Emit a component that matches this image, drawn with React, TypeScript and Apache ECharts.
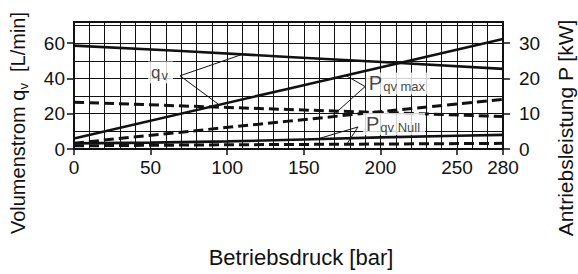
import React, { useEffect, useRef } from "react";
import * as echarts from "echarts";

// Axis tick labels
const pressureTicks = [0, 50, 100, 150, 200, 250, 280];
const flowTicks = [0, 20, 40, 60];
const powerTicks = [0, 10, 20, 30];

// Flow curves (left axis, L/min) : [pressure bar, flow]
const qvSolid = [[0, 58.6], [70, 55.6], [140, 52.2], [210, 48.9], [280, 45.4]];
const qvDashed = [[0, 26.5], [140, 22.4], [280, 18.4]];

// Power curves (right axis, kW) : [pressure bar, power]
const pMaxSolid = [[0, 3.0], [140, 17.1], [280, 31.2]];
const pMaxDashed = [[0, 1.65], [140, 7.9], [280, 14.1]];
const pNullSolid = [[0, 1.6], [50, 1.8], [100, 2.15], [150, 2.7], [200, 3.3], [250, 3.75], [280, 4.0]];
const pNullDashed = [[0, 0.9], [100, 1.2], [200, 1.4], [280, 1.6]];

// Leader lines (in left-axis units) and label anchors
const qvLeader = [[109, 53.4], [69.2, 41.5], [94.2, 25.4]];
const pMaxLeader = [[177.5, 41.6], [190, 35.4], [169.3, 19.3]];
const pNullLeader = [[159, 5.7], [185.4, 12.5], [178, 2.7]];
const qvLabelAt = [[48.3, 43.4]];
const pMaxLabelAt = [[190.5, 37.2]];
const pNullLabelAt = [[188.6, 14.2]];

const FONT = '"Liberation Sans", Arial, Helvetica, sans-serif';
const INK = "#111";

export default function App() {
  const ref = useRef<HTMLDivElement>(null);
  useEffect(() => {
    document.body.style.margin = "0";
    const chart = echarts.init(ref.current!, null, { renderer: "svg" });
    const lineSeries = (data: number[][], yAxisIndex: number, dashed: boolean, width = 2.6) => ({
      type: "line",
      xAxisIndex: 1,
      yAxisIndex,
      data,
      symbol: "none",
      silent: true,
      lineStyle: { color: INK, width, type: dashed ? [10, 5] : "solid" },
      z: 3,
    });
    const leader = (data: number[][]) => ({
      type: "line",
      xAxisIndex: 1,
      yAxisIndex: 0,
      data,
      symbol: "none",
      silent: true,
      lineStyle: { color: INK, width: 1 },
      z: 4,
    });
    const labelRich = {
      p: { fontSize: 20, fontFamily: FONT, color: INK, verticalAlign: "middle", lineHeight: 20 },
      q: { fontSize: 17, fontFamily: FONT, color: INK, verticalAlign: "middle", lineHeight: 20 },
      s: { fontSize: 13, fontFamily: FONT, color: INK, verticalAlign: "bottom", lineHeight: 13, padding: [6, 0, 0, 1] },
    };
    const labelSeries = (data: number[][], text: string) => ({
      type: "scatter",
      xAxisIndex: 1,
      yAxisIndex: 0,
      data,
      symbolSize: 0,
      silent: true,
      z: 5,
      label: {
        show: true,
        position: "right",
        distance: 0,
        formatter: text,
        backgroundColor: "#fff",
        padding: [1, 5, 1, 3],
        rich: labelRich,
      },
    });
    chart.setOption({
      animation: false,
      grid: {
        left: 74,
        top: 22,
        width: 429,
        height: 127,
        show: true,
        borderColor: INK,
        borderWidth: 2,
        backgroundColor: "transparent",
      },
      xAxis: [
        {
          type: "value",
          min: 0,
          max: 280,
          interval: 10,
          axisLine: { show: false },
          axisTick: { show: false },
          axisLabel: { show: false },
          splitLine: { show: true, lineStyle: { color: INK, width: 1 } },
        },
        {
          type: "value",
          min: 0,
          max: 280,
          interval: 10,
          position: "bottom",
          axisLine: { show: true, onZero: false, lineStyle: { color: INK, width: 2 } },
          axisTick: { show: true, customValues: pressureTicks, length: 6, lineStyle: { color: INK, width: 1.5 } },
          axisLabel: { show: true, customValues: pressureTicks, margin: 9, fontSize: 19, fontFamily: FONT, color: INK },
          splitLine: { show: false },
        },
      ],
      yAxis: [
        {
          type: "value",
          min: 0,
          max: 72,
          position: "left",
          axisLine: { show: true, onZero: false, lineStyle: { color: INK, width: 2 } },
          axisTick: { show: true, customValues: flowTicks, length: 7, lineStyle: { color: INK, width: 1.5 } },
          axisLabel: { show: true, customValues: flowTicks, margin: 9, fontSize: 19, fontFamily: FONT, color: INK },
          splitLine: { show: false },
        },
        {
          type: "value",
          min: 0,
          max: 36,
          position: "right",
          axisLine: { show: true, onZero: false, lineStyle: { color: INK, width: 2 } },
          axisTick: { show: true, customValues: powerTicks, length: 7, lineStyle: { color: INK, width: 1.5 } },
          axisLabel: { show: true, customValues: powerTicks, margin: 16, fontSize: 19, fontFamily: FONT, color: INK },
          splitLine: { show: false },
        },
        {
          type: "value",
          min: 0,
          max: 72,
          interval: 10,
          position: "left",
          axisLine: { show: false },
          axisTick: { show: false },
          axisLabel: { show: false },
          splitLine: { show: true, lineStyle: { color: INK, width: 1 } },
        },
      ],
      graphic: [
        {
          type: "text",
          x: 301,
          y: 257,
          silent: true,
          style: {
            text: "Betriebsdruck [bar]",
            fontSize: 22,
            fontFamily: FONT,
            fill: INK,
            textAlign: "center",
            textVerticalAlign: "middle",
            align: "center",
            verticalAlign: "middle",
          },
        },
        {
          type: "text",
          x: 18,
          y: 123,
          rotation: Math.PI / 2,
          silent: true,
          style: {
            text: "{n|Volumenstrom q}{s|v}{n|  [L/min]}",
            fill: INK,
            textAlign: "center",
            textVerticalAlign: "middle",
            align: "center",
            verticalAlign: "middle",
            rich: {
              n: { fontSize: 20, fontFamily: FONT, fill: INK, verticalAlign: "middle", lineHeight: 24 },
              s: { fontSize: 13, fontFamily: FONT, fill: INK, verticalAlign: "bottom", lineHeight: 13, padding: [6, 0, 0, 0] },
            },
          },
        },
        {
          type: "text",
          x: 565,
          y: 128,
          rotation: Math.PI / 2,
          silent: true,
          style: {
            text: "Antriebsleistung P [kW]",
            fontSize: 21,
            fontFamily: FONT,
            fill: INK,
            textAlign: "center",
            textVerticalAlign: "middle",
            align: "center",
            verticalAlign: "middle",
          },
        },
      ],
      series: [
        lineSeries(qvSolid, 0, false),
        lineSeries(qvDashed, 0, true, 3),
        lineSeries(pMaxSolid, 1, false),
        lineSeries(pMaxDashed, 1, true, 3),
        lineSeries(pNullSolid, 1, false),
        lineSeries(pNullDashed, 1, true, 3),
        leader(qvLeader),
        leader(pMaxLeader),
        leader(pNullLeader),
        labelSeries(qvLabelAt, "{q|q}{s|v}"),
        labelSeries(pMaxLabelAt, "{p|P}{s|qv max}"),
        labelSeries(pNullLabelAt, "{p|P}{s|qv Null}"),
      ],
    });
    return () => chart.dispose();
  }, []);
  return <div ref={ref} style={{ width: 578, height: 274 }} />;
}
